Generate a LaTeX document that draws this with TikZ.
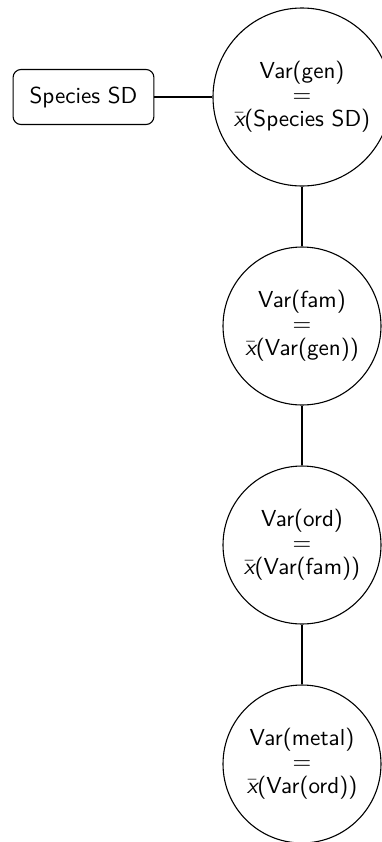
\documentclass[tikz,border=0pt]{standalone}
\usepackage{tikz}

\newcommand{\xbar}{\ensuremath{\bar{\hbox{\sffamily\slshape x}}}}

\begin{document}
\begin{tikzpicture}[
    x=0.4545pt, y=-0.4545pt,
    every node/.style={font=\sffamily\fontsize{10.5pt}{11pt}\selectfont, align=center, line width=0.5pt},
    sdbox/.style={draw, rounded corners=3.6pt, minimum width=64pt, minimum height=25pt, inner sep=0pt},
    bigvar/.style={draw, circle, inner sep=0pt, minimum size=80.9pt},
    var/.style={draw, circle, inner sep=0pt, minimum size=71.8pt},
    link/.style={draw, line width=0.5pt}
  ]
  \useasboundingbox (0,0) rectangle (382,842);

  \node[sdbox] (sd) at (83.5,97) {Species SD};
  \node[bigvar] (gen) at (302,97) {Var(gen)\\$=$\\\xbar(Species SD)};
  \node[var] (fam) at (302,326) {Var(fam)\\$=$\\\xbar(Var(gen))};
  \node[var] (ord) at (302,545) {Var(ord)\\$=$\\\xbar(Var(fam))};
  \node[var] (metal) at (302,764) {Var(metal)\\$=$\\\xbar(Var(ord))};

  \path[link] (sd) -- (gen);
  \path[link] (gen) -- (fam);
  \path[link] (fam) -- (ord);
  \path[link] (ord) -- (metal);
\end{tikzpicture}
\end{document}
